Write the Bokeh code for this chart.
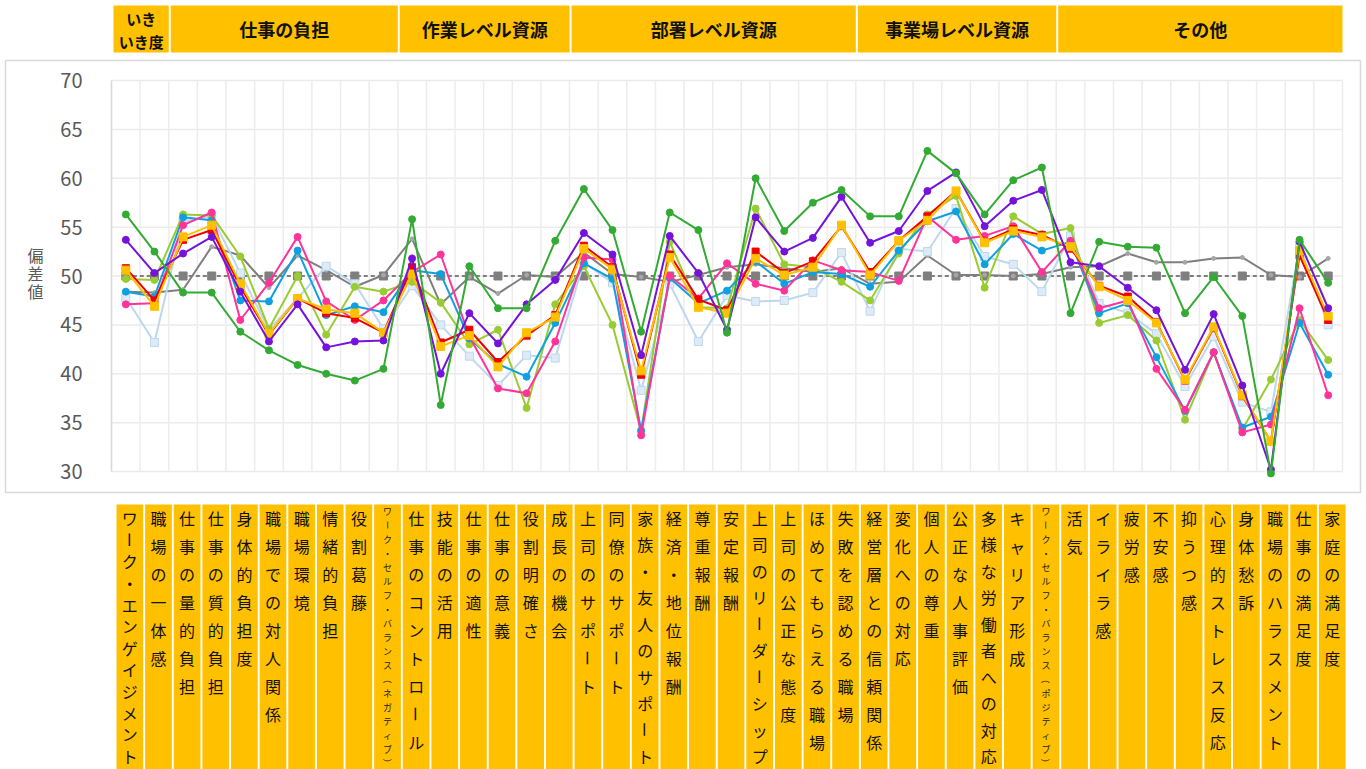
import math
from bokeh.plotting import figure
from bokeh.layouts import column
from bokeh.models import Range1d, ColumnDataSource
from bokeh.core.properties import value
from bokeh.embed import file_html
from bokeh.resources import INLINE

# ---------------- data ----------------
categories = [
    "ワーク・エンゲイジメント", "職場の一体感",
    "仕事の量的負担", "仕事の質的負担", "身体的負担度", "職場での対人関係", "職場環境",
    "情緒的負担", "役割葛藤", "ワーク・セルフ・バランス（ネガティブ）",
    "仕事のコントロール", "技能の活用", "仕事の適性", "仕事の意義", "役割明確さ", "成長の機会",
    "上司のサポート", "同僚のサポート", "家族・友人のサポート", "経済・地位報酬", "尊重報酬",
    "安定報酬", "上司のリーダーシップ", "上司の公正な態度", "ほめてもらえる職場", "失敗を認める職場",
    "経営層との信頼関係", "変化への対応", "個人の尊重", "公正な人事評価", "多様な労働者への対応",
    "キャリア形成", "ワーク・セルフ・バランス（ポジティブ）",
    "活気", "イライラ感", "疲労感", "不安感", "抑うつ感", "心理的ストレス反応", "身体愁訴",
    "職場のハラスメント", "仕事の満足度", "家庭の満足度",
]

group_names = ["いき\nいき度", "仕事の負担", "作業レベル資源", "部署レベル資源", "事業場レベル資源", "その他"]
group_sizes = [2, 8, 6, 10, 7, 10]

y_ticks = [30, 35, 40, 45, 50, 55, 60, 65, 70]
y_tick_labels = ["30", "35", "40", "45", "50", "55", "60", "65", "70"]
y_title = "偏\n差\n値"

green_vals = [56.3, 52.5, 48.3, 48.3, 44.3, 42.4, 40.9, 40.0, 39.3, 40.5, 55.8, 36.8, 51.0, 46.7,
              46.7, 53.6, 58.9, 54.7, 44.3, 56.5, 54.7, 44.2, 60.0, 54.6, 57.5, 58.8, 56.1, 56.1,
              62.8, 60.5, 56.3, 59.8, 61.1, 46.2, 53.5, 53.0, 52.9, 46.2, 49.9, 45.9, 29.8, 53.7, 49.3]
purple_vals = [53.7, 50.3, 52.3, 54.0, 48.4, 43.3, 47.1, 42.7, 43.3, 43.4, 51.8, 40.0, 46.2, 43.1,
               47.1, 49.6, 54.4, 52.2, 41.9, 54.1, 50.3, 44.5, 56.0, 52.5, 53.9, 58.1, 53.4, 54.6,
               58.7, 60.6, 55.1, 57.7, 58.8, 51.4, 51.0, 48.8, 46.5, 40.4, 46.1, 38.8, 30.2, 53.5, 46.7]
pink_vals = [47.1, 47.2, 55.2, 56.5, 45.5, 49.3, 54.0, 47.4, 45.5, 47.5, 50.4, 52.2, 43.8, 38.5,
             38.0, 43.3, 51.9, 51.7, 33.7, 50.0, 47.7, 51.3, 49.2, 48.5, 51.6, 50.6, 50.4, 49.5,
             56.1, 53.7, 54.1, 55.1, 50.4, 53.6, 46.7, 47.5, 40.5, 36.3, 42.2, 34.0, 34.8, 46.7, 37.8]
orange_vals = [50.6, 46.9, 54.0, 55.2, 49.2, 44.1, 47.7, 46.6, 46.2, 44.2, 50.2, 42.8, 43.9, 40.7,
               44.2, 45.8, 52.8, 50.7, 40.3, 51.9, 46.8, 46.2, 51.8, 50.1, 50.9, 55.2, 50.1, 53.6,
               55.7, 58.7, 53.4, 54.6, 54.0, 53.0, 48.9, 47.5, 45.2, 39.4, 44.8, 37.8, 33.1, 52.6, 45.9]
red_vals = [50.8, 47.5, 53.7, 54.7, 48.9, 44.0, 47.7, 46.2, 45.7, 44.2, 50.9, 43.2, 44.5, 41.2,
            43.9, 46.0, 53.1, 50.9, 39.9, 52.2, 47.6, 46.5, 52.5, 50.3, 51.5, 55.1, 50.4, 53.6,
            56.1, 58.7, 53.5, 54.8, 54.2, 52.8, 49.0, 47.9, 45.3, 39.3, 44.7, 37.7, 33.1, 52.1, 45.5]
blue_vals = [48.4, 47.9, 56.0, 55.7, 47.5, 47.4, 52.6, 46.0, 46.9, 46.3, 50.6, 50.2, 43.6, 41.0,
             39.7, 45.2, 51.3, 49.7, 34.2, 49.8, 47.2, 48.5, 51.5, 49.2, 50.4, 50.2, 48.9, 52.6,
             55.6, 56.6, 51.2, 54.3, 52.6, 53.5, 46.2, 47.2, 41.7, 36.2, 42.2, 34.5, 35.6, 45.2, 39.9]
yellowgreen_vals = [49.7, 49.6, 56.3, 56.2, 52.0, 44.6, 50.0, 44.0, 48.9, 48.4, 49.4, 47.3, 43.0, 44.5,
                    36.5, 47.1, 51.0, 45.0, 34.1, 53.5, 46.8, 46.7, 56.9, 51.2, 50.9, 49.4, 47.5, 52.3,
                    56.3, 58.2, 48.8, 56.1, 54.3, 54.9, 45.2, 46.0, 43.4, 35.3, 42.2, 34.3, 39.4, 45.5, 41.4]
lightblue_vals = [47.8, 43.2, 55.6, 56.1, 50.3, 44.5, 47.7, 51.0, 49.2, 44.6, 49.0, 45.0, 41.8, 38.8,
                  41.9, 41.6, 51.4, 49.3, 38.3, 49.2, 43.3, 48.0, 47.4, 47.5, 48.3, 52.4, 46.4, 52.8,
                  52.5, 56.9, 52.0, 51.2, 48.4, 54.1, 47.2, 46.2, 44.1, 38.7, 43.8, 37.1, 36.1, 53.1, 45.0]
grey_vals = [48.4, 48.3, 48.6, 53.0, 52.1, 48.8, 52.1, 50.6, 48.9, 50.1, 53.8, 47.1, 49.9, 48.2,
             50.1, 49.9, 52.4, 50.2, 49.9, 49.4, 50.1, 50.9, 51.2, 50.8, 50.4, 50.8, 49.2, 49.4,
             52.1, 50.1, 50.1, 50.0, 50.2, 50.9, 51.0, 52.3, 51.4, 51.4, 51.8, 51.9, 50.1, 49.9, 51.8]
baseline_vals = [50, 50, 50, 50, 50, 50, 50, 50, 50, 50, 50, 50, 50, 50, 50, 50, 50, 50, 50, 50, 50, 50,
                 50, 50, 50, 50, 50, 50, 50, 50, 50, 50, 50, 50, 50, 50, 50, 50, 50, 50, 50, 50, 50]

# ---------------- layout constants (pixels) ----------------
W = 1366
HEADER_H, MAIN_H, LABEL_H = 56, 440, 273
BOX_L, BOX_R = 5, 6            # chart box inset from the page edges
BOX_T, BOX_B = 4, 4            # chart box inset inside the main strip
AREA_L, AREA_R = 111, 1342     # plot area, page x
AREA_T, AREA_B = 80, 471       # plot area, page y
MAIN_Y0 = HEADER_H             # page y of the main strip
Y_MIN, Y_MAX = 30, 70
JP = value("Noto Sans CJK JP")
BOX_COLOR = "#FFC000"

n = len(categories)
xs = [i + 0.5 for i in range(n)]

# horizontal scale shared by all strips: category units
cat_px = (AREA_L - AREA_R) / -n
x_start = -(AREA_L - BOX_L) / cat_px
x_end = n + ((W - BOX_R) - AREA_R) / cat_px

# vertical scale of the chart box
val_px = (AREA_B - AREA_T) / (Y_MAX - Y_MIN)
y_top = Y_MAX + ((AREA_T - MAIN_Y0) - BOX_T) / val_px
y_bot = Y_MIN - ((MAIN_Y0 + MAIN_H - BOX_B) - AREA_B) / val_px


def to_cat(px):
    """page x (pixels) -> category units"""
    return (px - AREA_L) / cat_px


def strip_figure(height, y_range):
    f = figure(width=W, height=height, x_range=Range1d(x_start, x_end), y_range=y_range,
               output_backend="svg", toolbar_location=None,
               min_border_left=BOX_L, min_border_right=BOX_R,
               min_border_top=0, min_border_bottom=0)
    f.axis.visible = False
    f.grid.visible = False
    f.outline_line_color = None
    return f


# ---------------- main chart ----------------
p = figure(width=W, height=MAIN_H, x_range=Range1d(x_start, x_end), y_range=Range1d(y_bot, y_top),
           output_backend="svg", toolbar_location=None,
           min_border_left=BOX_L, min_border_right=BOX_R,
           min_border_top=BOX_T, min_border_bottom=BOX_B)
p.axis.visible = False
p.grid.visible = False
p.outline_line_color = "#d9d9d9"
p.outline_line_width = 1.5
p.background_fill_color = "white"
p.border_fill_color = "white"

# grid: value lines and category separators
p.segment(x0=[0] * len(y_ticks), x1=[n] * len(y_ticks), y0=y_ticks, y1=y_ticks,
          line_color="#ebebeb", line_width=1.5)
p.segment(x0=list(range(n + 1)), x1=list(range(n + 1)), y0=[Y_MIN] * (n + 1), y1=[Y_MAX] * (n + 1),
          line_color="#ededed", line_width=1.5)
# value axis line
p.segment(x0=[0], x1=[0], y0=[Y_MIN], y1=[Y_MAX], line_color="#d9d9d9", line_width=1.5)

# value tick labels and title
p.text(x=[to_cat(82)] * len(y_ticks), y=y_ticks, text=y_tick_labels, text_font=JP,
       text_font_size="20px", text_color="#595959", text_align="right", text_baseline="middle")
p.text(x=[to_cat(35)], y=[50.3], text=[y_title], text_font=JP, text_font_size="16px",
       text_color="#595959", text_align="center", text_baseline="middle", text_line_height=0.74)

# national average (50) reference line with square markers
p.line(xs, baseline_vals, line_color="#595959", line_width=1.5, line_dash="4 3")
p.scatter(xs, baseline_vals, marker="square", size=8, fill_color="#7F7F7F", line_color="#7F7F7F")

# grey comparison line
p.line(xs, grey_vals, line_color="#7F7F7F", line_width=2)
p.scatter(xs, grey_vals, marker="circle", size=4, fill_color="#A6A6A6", line_color="#A6A6A6")

series = [
    (lightblue_vals, "#BDD7EE", "square", 8, "#DDEBF7"),
    (yellowgreen_vals, "#99CC33", "circle", 7, "#99CC33"),
    (blue_vals, "#0FA0E0", "circle", 7, "#0FA0E0"),
    (pink_vals, "#FF3399", "circle", 7, "#FF3399"),
    (red_vals, "#F00000", "square", 7, "#F00000"),
    (orange_vals, "#FFC000", "square", 8, "#FFC000"),
    (purple_vals, "#7512DB", "circle", 7, "#7512DB"),
    (green_vals, "#33AA33", "circle", 7, "#33AA33"),
]
for vals, color, marker, size, fill in series:
    p.line(xs, vals, line_color=color, line_width=2)
    p.scatter(xs, vals, marker=marker, size=size, fill_color=fill, line_color=color, line_width=1)

# ---------------- group header row (y in pixels from the top) ----------------
h = strip_figure(HEADER_H, Range1d(HEADER_H, 0))
HEAD_TOP, HEAD_BOT, HEAD_INSET = 5, 52, 0.07
starts = []
acc = 0
for s in group_sizes:
    starts.append(acc)
    acc += s
hl = [s0 + HEAD_INSET for s0 in starts]
hr = [s0 + s for s0, s in zip(starts, group_sizes)]
h.quad(left=hl, right=hr, top=[HEAD_TOP] * len(hl), bottom=[HEAD_BOT] * len(hl),
       fill_color=BOX_COLOR, line_color=None)
hc = [(a + b) / 2 for a, b in zip(hl, hr)]
hy = (HEAD_TOP + HEAD_BOT) / 2
h.text(x=hc[1:], y=[hy] * (len(hc) - 1), text=group_names[1:], text_font=JP,
       text_font_style="bold", text_font_size="18px", text_color="#111111",
       text_align="center", text_baseline="middle")
h.text(x=[hc[0]], y=[hy + 1], text=[group_names[0]], text_font=JP,
       text_font_style="bold", text_font_size="15px", text_color="#111111",
       text_align="center", text_baseline="middle", text_line_height=1.12)

# ---------------- vertical category labels (y in pixels from the top) ----------------
lab = strip_figure(LABEL_H, Range1d(LABEL_H, 0))
LAB_INSET, LAB_W, LAB_TOP = 0.175, 0.933, 8
ll = [i + LAB_INSET for i in range(n)]
lab.quad(left=ll, right=[a + LAB_W for a in ll], top=[LAB_TOP] * n, bottom=[LABEL_H + 5] * n,
         fill_color=BOX_COLOR, line_color=None)

ROTATED = {"ー", "（", "）"}
big = dict(x=[], y=[], t=[], a=[])
small = dict(x=[], y=[], t=[], a=[])
for i, name in enumerate(categories):
    cx = ll[i] + LAB_W / 2
    k = len(name)
    if k > 12:
        tgt, y0, step = small, 14.5, 14.0
    else:
        tgt, y0, step = big, 21.5, min(28.0, 238.0 / max(k - 1, 1))
    for j, ch in enumerate(name):
        tgt["x"].append(cx)
        tgt["y"].append(y0 + j * step)
        tgt["t"].append(ch)
        tgt["a"].append(-math.pi / 2 if ch in ROTATED else 0.0)

lab.text(x="x", y="y", text="t", angle="a", source=ColumnDataSource(big), text_font=JP,
         text_font_size="16px", text_color="#111111", text_align="center", text_baseline="middle")
lab.text(x="x", y="y", text="t", angle="a", source=ColumnDataSource(small), text_font=JP,
         text_font_size="9px", text_color="#222222", text_align="center", text_baseline="middle")

layout = column(h, p, lab, spacing=0)
open("out.html", "w").write(file_html(layout, INLINE))
